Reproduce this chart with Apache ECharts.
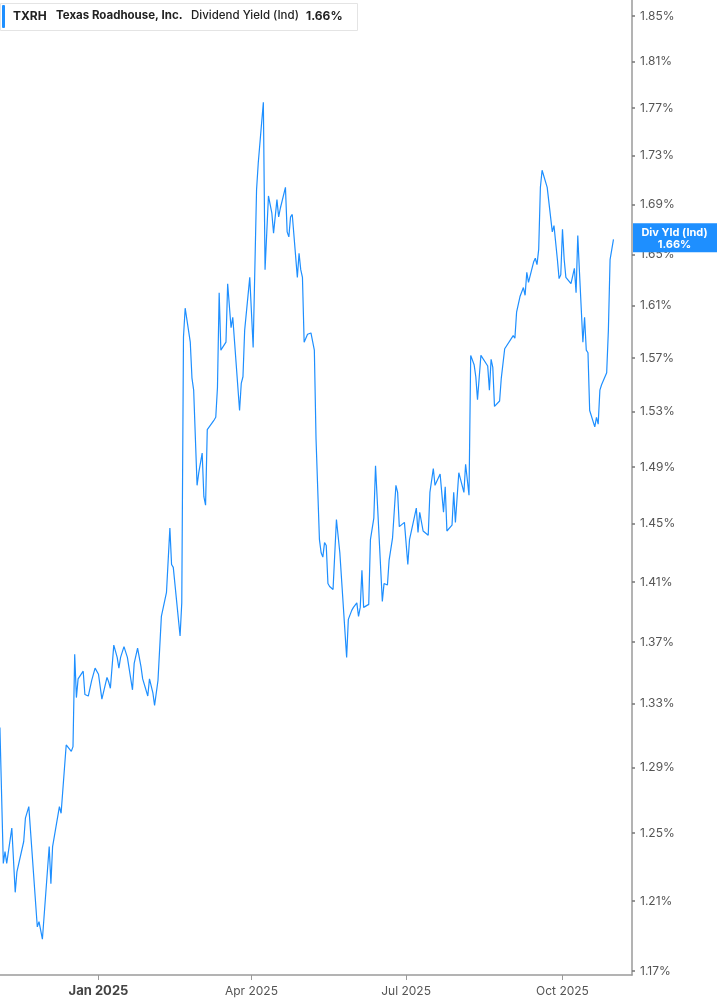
<!DOCTYPE html>
<html><head><meta charset="utf-8">
<script src="https://cdn.jsdelivr.net/npm/echarts@6/dist/echarts.min.js"></script>
<style>html,body{margin:0;padding:0;background:#fff}#c{width:717px;height:1005px}</style>
</head><body><div id="c"></div>
<script>
const dates = [
'2024-11-04','2024-11-06','2024-11-07','2024-11-08','2024-11-11','2024-11-13','2024-11-14','2024-11-18','2024-11-19','2024-11-20',
'2024-11-21','2024-11-26','2024-11-27','2024-11-29','2024-12-03','2024-12-04','2024-12-05','2024-12-06','2024-12-09','2024-12-10',
'2024-12-13','2024-12-16','2024-12-17','2024-12-18','2024-12-19','2024-12-20','2024-12-23','2024-12-24','2024-12-26','2024-12-28',
'2024-12-30','2025-01-01','2025-01-03','2025-01-06','2025-01-07','2025-01-08','2025-01-10','2025-01-12','2025-01-13','2025-01-14',
'2025-01-15','2025-01-16','2025-01-18','2025-01-21','2025-01-22','2025-01-24','2025-01-26','2025-01-27','2025-01-28','2025-01-30',
'2025-01-31','2025-02-02','2025-02-03','2025-02-05','2025-02-07','2025-02-10','2025-02-12','2025-02-13','2025-02-14','2025-02-18',
'2025-02-19','2025-02-20','2025-02-21','2025-02-24','2025-02-25','2025-02-26','2025-02-28','2025-03-01','2025-03-03','2025-03-04',
'2025-03-05','2025-03-06','2025-03-10','2025-03-11','2025-03-12','2025-03-13','2025-03-14','2025-03-17','2025-03-18','2025-03-20',
'2025-03-21','2025-03-25','2025-03-26','2025-03-27','2025-03-28','2025-03-31','2025-04-02','2025-04-04','2025-04-05','2025-04-08',
'2025-04-09','2025-04-11','2025-04-13','2025-04-14','2025-04-15','2025-04-16','2025-04-17','2025-04-18','2025-04-21','2025-04-22',
'2025-04-23','2025-04-24','2025-04-25','2025-04-28','2025-04-29','2025-04-30','2025-05-01','2025-05-02','2025-05-04','2025-05-06',
'2025-05-07','2025-05-08','2025-05-09','2025-05-11','2025-05-12','2025-05-13','2025-05-14','2025-05-15','2025-05-16','2025-05-17',
'2025-05-19','2025-05-21','2025-05-23','2025-05-27','2025-05-28','2025-05-30','2025-05-31','2025-06-02','2025-06-03','2025-06-04',
'2025-06-05','2025-06-06','2025-06-09','2025-06-10','2025-06-12','2025-06-13','2025-06-17','2025-06-18','2025-06-20','2025-06-21',
'2025-06-23','2025-06-24','2025-06-25','2025-06-26','2025-06-27','2025-06-30','2025-07-02','2025-07-03','2025-07-07','2025-07-08',
'2025-07-09','2025-07-10','2025-07-11','2025-07-14','2025-07-15','2025-07-17','2025-07-18','2025-07-21','2025-07-23','2025-07-24',
'2025-07-25','2025-07-28','2025-07-29','2025-07-30','2025-08-01','2025-08-04','2025-08-05','2025-08-07','2025-08-08','2025-08-10',
'2025-08-11','2025-08-12','2025-08-14','2025-08-15','2025-08-18','2025-08-19','2025-08-20','2025-08-21','2025-08-22','2025-08-25',
'2025-08-26','2025-08-27','2025-08-28','2025-08-29','2025-09-02','2025-09-03','2025-09-04','2025-09-06','2025-09-08','2025-09-09',
'2025-09-10','2025-09-11','2025-09-14','2025-09-15','2025-09-16','2025-09-17','2025-09-18','2025-09-19','2025-09-22','2025-09-23',
'2025-09-25','2025-09-26','2025-09-28','2025-09-29','2025-09-30','2025-10-01','2025-10-02','2025-10-03','2025-10-06','2025-10-08',
'2025-10-09','2025-10-10','2025-10-11','2025-10-13','2025-10-14','2025-10-15','2025-10-16','2025-10-17','2025-10-20','2025-10-21',
'2025-10-22','2025-10-23','2025-10-24','2025-10-27','2025-10-28','2025-10-29','2025-10-31'
];
const yields = [
1.315,1.232,1.239,1.232,1.253,1.215,1.227,1.245,1.259,1.260,
1.266,1.195,1.198,1.188,1.242,1.220,1.242,1.241,1.266,1.262,
1.304,1.300,1.303,1.362,1.334,1.346,1.351,1.336,1.335,1.345,
1.353,1.349,1.333,1.347,1.344,1.340,1.368,1.360,1.353,1.360,
1.360,1.367,1.360,1.339,1.356,1.366,1.354,1.346,1.347,1.335,
1.346,1.337,1.329,1.345,1.387,1.403,1.447,1.422,1.420,1.374,
1.396,1.586,1.608,1.582,1.555,1.546,1.477,1.486,1.500,1.469,
1.463,1.517,1.524,1.526,1.548,1.620,1.576,1.582,1.627,1.593,
1.601,1.531,1.551,1.556,1.591,1.632,1.578,1.702,1.724,1.775,
1.638,1.697,1.683,1.667,1.667,1.694,1.680,1.687,1.704,1.668,
1.664,1.680,1.682,1.632,1.651,1.638,1.632,1.582,1.588,1.589,
1.588,1.576,1.510,1.439,1.430,1.427,1.437,1.435,1.409,1.407,
1.405,1.453,1.430,1.360,1.385,1.391,1.393,1.396,1.387,1.393,
1.418,1.393,1.395,1.439,1.454,1.491,1.397,1.409,1.408,1.425,
1.440,1.440,1.477,1.472,1.448,1.451,1.422,1.439,1.461,1.444,
1.458,1.458,1.445,1.442,1.472,1.489,1.477,1.485,1.458,1.476,
1.445,1.449,1.472,1.451,1.486,1.472,1.492,1.470,1.572,1.565,
1.556,1.539,1.572,1.573,1.564,1.546,1.569,1.563,1.534,1.538,
1.555,1.555,1.577,1.576,1.587,1.585,1.605,1.617,1.624,1.618,
1.636,1.628,1.644,1.647,1.642,1.654,1.704,1.718,1.704,1.703,
1.668,1.673,1.646,1.631,1.634,1.670,1.646,1.632,1.627,1.639,
1.620,1.665,1.636,1.582,1.601,1.576,1.574,1.531,1.519,1.526,
1.521,1.546,1.550,1.559,1.591,1.646,1.662
];
const yTicks = [1.17,1.21,1.25,1.29,1.33,1.37,1.41,1.45,1.49,1.53,1.57,1.61,1.65,1.69,1.73,1.77,1.81,1.85];
const xTicks = ['2025-01-01','2025-04-01','2025-07-01','2025-10-01'];
const monthNames = ['Jan','Feb','Mar','Apr','May','Jun','Jul','Aug','Sep','Oct','Nov','Dec'];
const ticker = 'TXRH', company = 'Texas Roadhouse, Inc.', metric = 'Dividend Yield (Ind)';
const lastVal = yields[yields.length - 1];

function ts(s){ const p = s.split('-').map(Number); return new Date(p[0], p[1]-1, p[2]).getTime(); }
const DAY = 86400000;
const LINE = '#1e8fff';
const chart = echarts.init(document.getElementById('c'), null, {renderer:'canvas'});
const lnMin = Math.log(1.17) - 4/2084;
const lnMax = Math.log(1.85) + 16/2084;
const xMin = ts('2024-11-04') + 0.05*DAY;
const xMax = ts('2025-11-10') + 0.9*DAY;
chart.setOption({
  animation:false,
  backgroundColor:'#fff',
  textStyle:{fontFamily:'Inter, Roboto, sans-serif'},
  grid:{left:0, right:85, top:0, bottom:30, containLabel:false},
  xAxis:{
    type:'value',
    min: xMin, max: xMax,
    axisLine:{show:true, lineStyle:{color:'#9a9a9a', width:1.5}},
    axisTick:{show:true, customValues: xTicks.map(ts), length:5, lineStyle:{color:'#9a9a9a'}},
    axisLabel:{
      customValues: xTicks.map(ts),
      margin:10, fontSize:12, color:'#555',
      formatter: function(v){ const d = new Date(v); const t = monthNames[d.getMonth()] + ' ' + d.getFullYear(); return d.getMonth()===0 ? '{b|' + t + '}' : t; },
      rich:{b:{fontWeight:'bold', fontSize:13, color:'#444', fontFamily:'Inter, Roboto, sans-serif'}}
    },
    splitLine:{show:false}
  },
  yAxis:{
    type:'value', position:'right',
    min: lnMin, max: lnMax,
    axisLine:{show:true, lineStyle:{color:'#9a9a9a', width:1.5}},
    axisTick:{show:true, customValues: yTicks.map(Math.log), length:3, inside:false, lineStyle:{color:'#777', width:1.5}},
    axisLabel:{customValues: yTicks.map(Math.log), margin:8, fontSize:12, color:'#555',
      formatter: function(v){ return Math.exp(v).toFixed(2) + '%'; }},
    splitLine:{show:false}
  },
  series:[{
    type:'line', showSymbol:false, symbol:'none',
    lineStyle:{color:LINE, width:1.2},
    data: dates.map(function(d,i){ return [ts(d), Math.log(yields[i])]; })
  }]
});
const yPix = chart.convertToPixel({yAxisIndex:0}, Math.log(lastVal));
const axX = chart.convertToPixel({xAxisIndex:0}, xMax);
chart.setOption({
  graphic:[
    {type:'rect', left:0, top:3, shape:{x:0,y:0,width:357,height:27}, style:{fill:'#fff', stroke:'#e4e4e4', lineWidth:1}, z:100},
    {type:'rect', left:2, top:5, shape:{x:0,y:0,width:3,height:23, r:1}, style:{fill:LINE}, z:101},
    {type:'text', left:13, top:10, style:{text:ticker, font:'bold 12px Inter, sans-serif', fill:'#222'}, z:101},
    {type:'text', left:56, top:10, style:{text:company, font:'bold 11.5px Inter, sans-serif', fill:'#222'}, z:101},
    {type:'text', left:191, top:10, style:{text:metric, font:'500 11.5px Inter, sans-serif', fill:'#222'}, z:101},
    {type:'text', left:306, top:10, style:{text:lastVal.toFixed(2) + '%', font:'bold 12px Inter, sans-serif', fill:'#222'}, z:101},
    {type:'rect', left:axX + 1, top:yPix - 16, shape:{x:0,y:0,width:717-axX-1,height:29}, style:{fill:LINE}, z:100},
    {type:'text', x:(axX + 717)/2, y:yPix - 13, style:{text:'Div Yld (Ind)\n' + lastVal.toFixed(2) + '%', font:'bold 11px Inter, sans-serif', fill:'#fff', align:'center', verticalAlign:'top', lineHeight:12}, z:101}
  ]
});
</script>
</body></html>
